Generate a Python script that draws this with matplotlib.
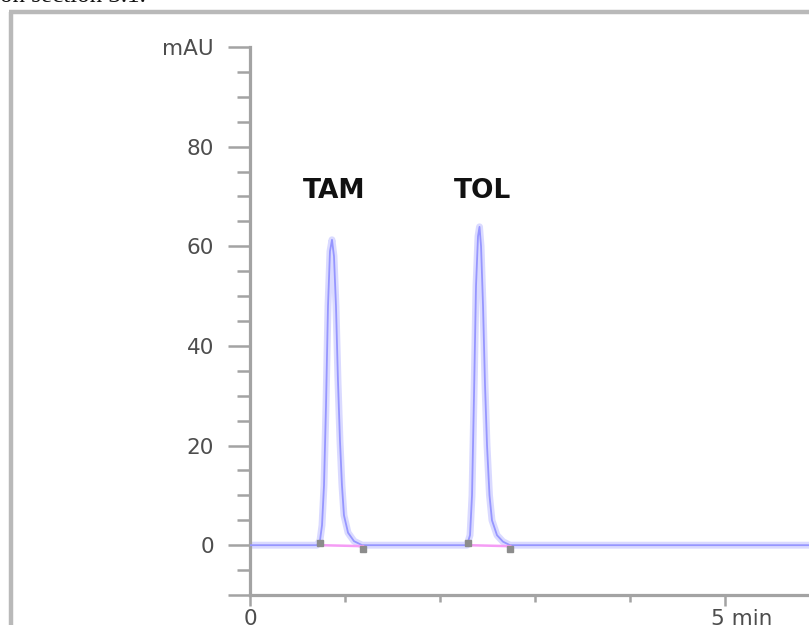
import matplotlib
matplotlib.use("Agg")
import matplotlib.pyplot as plt
from matplotlib.lines import Line2D
from matplotlib.ticker import FixedLocator

# Chromatogram trace (time in min, signal in mAU)
time = [0.0, 0.705, 0.737, 0.758, 0.779, 0.800, 0.821, 0.842, 0.863, 0.884,
        0.905, 0.926, 0.947, 0.968, 0.989, 1.032, 1.095, 1.18,
        2.284, 2.316, 2.337, 2.358, 2.379, 2.400, 2.416, 2.432, 2.453,
        2.474, 2.495, 2.521, 2.547, 2.600, 2.663, 2.737, 5.9]
signal = [0.0, 0.0, 1.0, 4.0, 12.0, 28.0, 48.0, 59.0, 61.3, 58.0,
          48.0, 33.0, 21.0, 12.0, 6.0, 2.5, 0.8, 0.0,
          0.0, 2.0, 10.0, 30.0, 52.0, 62.0, 63.9, 60.0, 48.0,
          32.0, 20.0, 10.0, 5.0, 2.0, 0.7, 0.0, 0.0]

# Peak names and integration limits
peak_names = ["TAM", "TOL"]
peak_label_time = [0.83, 2.39]
peak_start = [0.74, 2.29]
peak_end = [1.19, 2.74]
label_level = 71.0

y_major = [-10, 0, 20, 40, 60, 80, 100]
y_labels = ["", "0", "20", "40", "60", "80", "mAU"]
y_minor = [-5, 5, 10, 15, 25, 30, 35, 45, 50, 55, 65, 70, 75, 85, 90, 95]
x_major = [0, 5]
x_labels = ["0", "5 min"]
x_minor = [1, 2, 3, 4]

W, H = 809, 625
fig = plt.figure(figsize=(W / 100, H / 100), dpi=100)
fig.patch.set_facecolor("white")

# page frame around the figure
frame_col = "#b9b9b9"
fig.add_artist(Line2D([11 / W, 11 / W], [0, 1 - 12 / H], transform=fig.transFigure,
                      color=frame_col, lw=3.2, solid_capstyle="butt"))
fig.add_artist(Line2D([9 / W, 1], [1 - 12 / H, 1 - 12 / H], transform=fig.transFigure,
                      color=frame_col, lw=3.2, solid_capstyle="butt"))
fig.text(146 / W, 1 - 1.5 / H, "on section 3.1.", ha="right", va="baseline",
         family="Liberation Serif", fontsize=18, color="#111111")

ax = fig.add_axes([250 / W, 30 / H, (W - 250) / W, (595 - 47) / H])
ax.set_xlim(0, (W - 250) / 95.0)
ax.set_ylim(-10, 100)

axis_col = "#a3a3a3"
for side in ("top", "right"):
    ax.spines[side].set_visible(False)
ax.spines["left"].set_color(axis_col)
ax.spines["left"].set_linewidth(2.3)
ax.spines["bottom"].set_color(axis_col)
ax.spines["bottom"].set_linewidth(2.3)

ax.yaxis.set_major_locator(FixedLocator(y_major))
ax.set_yticklabels(y_labels)
ax.yaxis.set_minor_locator(FixedLocator(y_minor))
ax.xaxis.set_major_locator(FixedLocator(x_major))
ax.set_xticklabels(["0", ""])
ax.xaxis.set_minor_locator(FixedLocator(x_minor))

lab_col = "#4d4d4d"
ax.tick_params(axis="y", which="major", direction="out", length=16, width=1.8,
               color=axis_col, pad=10, labelsize=15.5, labelcolor=lab_col)
ax.tick_params(axis="y", which="minor", direction="out", length=9.5, width=1.8,
               color=axis_col)
ax.tick_params(axis="x", which="major", direction="out", length=8, width=1.8,
               color=axis_col, pad=2, labelsize=15.5, labelcolor=lab_col)
ax.tick_params(axis="x", which="minor", direction="out", length=5, width=1.8,
               color=axis_col)
ax.annotate(x_labels[1], xy=(x_major[1], 0), xycoords=("data", "axes fraction"),
            xytext=(-10, -10), textcoords="offset points", ha="left", va="top",
            fontsize=15.5, color=lab_col, annotation_clip=False)

# signal trace: soft halo plus core line
ax.plot(time, signal, color="#dadaff", lw=5.0, solid_joinstyle="round", zorder=2)
ax.plot(time, signal, color="#9696ff", lw=1.3, solid_joinstyle="round", zorder=3)

# integration baselines and limit marks
for s, e in zip(peak_start, peak_end):
    ax.plot([s, e], [0.0, -0.2], color="#f59cf5", lw=1.8, zorder=4)
    ax.plot([s], [0.5], marker="s", ms=4, color="#8c8c8c", zorder=5)
    ax.plot([e], [-0.7], marker="s", ms=4, color="#8c8c8c", zorder=5)

for name, t in zip(peak_names, peak_label_time):
    ax.text(t + 0.06, label_level, name, ha="center", va="center", fontsize=19,
            fontweight="bold", family="DejaVu Sans", color="#111111")

fig.savefig("out.png", dpi=100, facecolor="white")
